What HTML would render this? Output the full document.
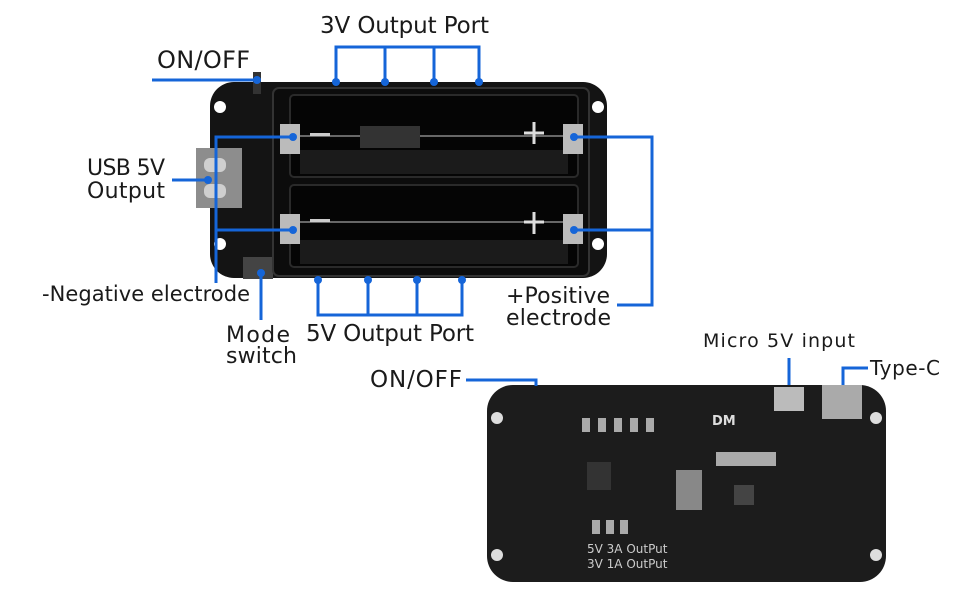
<!DOCTYPE html>
<html><head><meta charset="utf-8"><style>
html,body{margin:0;padding:0;background:#fff;width:970px;height:600px;overflow:hidden}
svg text{font-family:"DejaVu Sans","Liberation Sans",sans-serif;fill:#1a1a1a}
</style></head><body>
<svg width="970" height="600" viewBox="0 0 970 600" xmlns="http://www.w3.org/2000/svg">
<!-- TOP BOARD -->
<rect x="210" y="82" width="397" height="196" rx="24" fill="#141414"/>
<rect x="196" y="148" width="46" height="60" fill="#8d8d8d"/>
<rect x="204" y="158" width="22" height="14" rx="6" fill="#cfcfcf"/>
<rect x="204" y="184" width="22" height="14" rx="6" fill="#cfcfcf"/>
<circle cx="220" cy="107" r="6" fill="#fff"/><circle cx="220" cy="244" r="6" fill="#fff"/>
<rect x="243" y="257" width="30" height="22" fill="#444"/>
<rect x="253" y="72" width="8" height="22" fill="#333"/>
<!-- holder -->
<rect x="273" y="88" width="316" height="188" rx="6" fill="#0c0c0c" stroke="#333" stroke-width="2"/>
<circle cx="598" cy="107" r="6" fill="#fff"/><circle cx="598" cy="244" r="6" fill="#fff"/>
<rect x="290" y="95" width="288" height="82" rx="4" fill="#050505" stroke="#2a2a2a" stroke-width="2"/>
<rect x="290" y="185" width="288" height="82" rx="4" fill="#050505" stroke="#2a2a2a" stroke-width="2"/>
<rect x="300" y="150" width="268" height="24" fill="#1b1b1b"/>
<rect x="300" y="240" width="268" height="24" fill="#1b1b1b"/>
<line x1="300" y1="136" x2="570" y2="136" stroke="#888" stroke-width="1.5"/>
<line x1="300" y1="222" x2="570" y2="222" stroke="#888" stroke-width="1.5"/>
<rect x="360" y="126" width="60" height="22" fill="#333"/>
<rect x="310" y="133" width="20" height="3" fill="#ccc"/><rect x="310" y="219" width="20" height="3" fill="#ccc"/>
<path d="M524 133h20M534 122v22M524 222h20M534 212v22" stroke="#ddd" stroke-width="3"/>
<rect x="280" y="124" width="20" height="30" fill="#bbb"/><rect x="280" y="214" width="20" height="30" fill="#bbb"/>
<rect x="563" y="124" width="20" height="30" fill="#bbb"/><rect x="563" y="214" width="20" height="30" fill="#bbb"/>
<!-- OUTER BLUE LINES TOP -->
<g stroke="#1565d8" stroke-width="3" fill="none">
<path d="M152 80H257"/>
<path d="M336 82V47H479V82M385 47V82M434 47V82"/>
<path d="M172 180H208"/>
<path d="M293 137H216V283M216 230H293"/>
<path d="M261 273V320"/>
<path d="M318 280V315H462V280M368 315V280M417 315V280"/>
<path d="M574 137H652V305H617M652 230H574"/>
</g>
<g fill="#1565d8">
<circle cx="257" cy="80" r="4"/><circle cx="336" cy="82" r="4"/><circle cx="385" cy="82" r="4"/><circle cx="434" cy="82" r="4"/><circle cx="479" cy="82" r="4"/>
<circle cx="208" cy="180" r="4"/><circle cx="293" cy="137" r="4"/><circle cx="293" cy="230" r="4"/><circle cx="261" cy="273" r="4"/>
<circle cx="318" cy="280" r="4"/><circle cx="368" cy="280" r="4"/><circle cx="417" cy="280" r="4"/><circle cx="462" cy="280" r="4"/>
<circle cx="574" cy="137" r="4"/><circle cx="574" cy="230" r="4"/>
</g>
<text x="320" y="33" font-size="23" textLength="169">3V Output Port</text>
<text x="157" y="68" font-size="24" textLength="93">ON/OFF</text>
<text x="87" y="175" font-size="22" textLength="78">USB 5V</text>
<text x="87" y="198" font-size="22" textLength="78">Output</text>
<text x="42" y="301" font-size="21" textLength="208">-Negative electrode</text>
<text x="226" y="342" font-size="22" textLength="64">Mode</text>
<text x="226" y="363" font-size="22" textLength="71">switch</text>
<text x="306" y="341" font-size="23" textLength="168">5V Output Port</text>
<text x="506" y="303" font-size="22" textLength="104">+Positive</text>
<text x="506" y="325" font-size="22" textLength="105">electrode</text>
<!-- BOTTOM BOARD -->
<rect x="487" y="385" width="399" height="197" rx="26" fill="#1c1c1c"/>
<circle cx="497" cy="418" r="6" fill="#ddd"/><circle cx="876" cy="418" r="6" fill="#ddd"/>
<circle cx="497" cy="555" r="6" fill="#ddd"/><circle cx="876" cy="555" r="6" fill="#ddd"/>
<rect x="774" y="387" width="30" height="24" fill="#bbb"/>
<rect x="822" y="385" width="40" height="34" fill="#aaa"/>
<rect x="676" y="470" width="26" height="40" fill="#888"/>
<rect x="734" y="485" width="20" height="20" fill="#444"/>
<rect x="587" y="462" width="24" height="28" fill="#333"/>
<g fill="#aaa"><rect x="582" y="418" width="8" height="14"/><rect x="598" y="418" width="8" height="14"/><rect x="614" y="418" width="8" height="14"/><rect x="630" y="418" width="8" height="14"/><rect x="646" y="418" width="8" height="14"/>
<rect x="592" y="520" width="8" height="14"/><rect x="606" y="520" width="8" height="14"/><rect x="620" y="520" width="8" height="14"/>
<rect x="716" y="452" width="60" height="14"/></g>
<text x="712" y="425" font-size="13" font-weight="bold" style="fill:#ddd">DM</text>
<text x="587" y="553" font-size="12" style="fill:#ccc">5V  3A  OutPut</text>
<text x="587" y="568" font-size="12" style="fill:#ccc">3V  1A  OutPut</text>
<g stroke="#1565d8" stroke-width="3" fill="none">
<path d="M466 380H536V386"/><path d="M789 358V385"/><path d="M868 368H843V385"/>
</g>
<text x="370" y="387" font-size="23" textLength="92">ON/OFF</text>
<text x="703" y="347" font-size="19" textLength="152">Micro 5V input</text>
<text x="870" y="375" font-size="20" textLength="70">Type-C</text>
</svg>
</body></html>
